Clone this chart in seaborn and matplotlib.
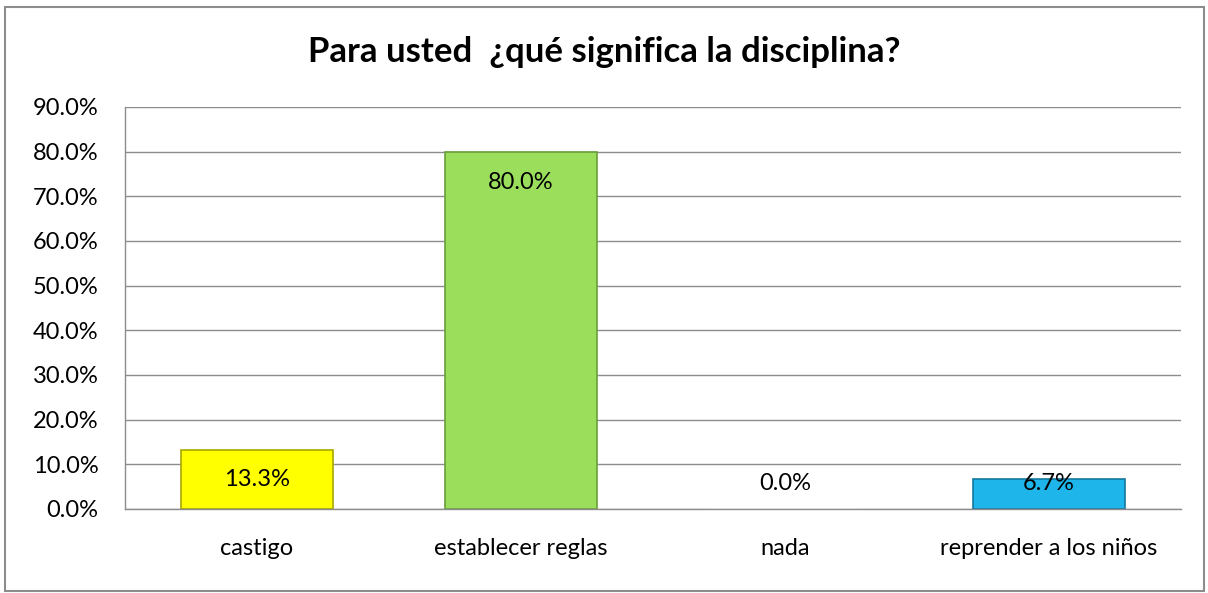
import matplotlib
matplotlib.use("Agg")
import matplotlib.pyplot as plt
import seaborn as sns
import pandas as pd
from matplotlib.patches import Rectangle

# Data
categories = ["castigo", "establecer reglas", "nada", "reprender a los niños"]
values = [13.3, 80.0, 0.0, 6.7]
colors = ["#FFFF00", "#9BDE5C", "#F0F0F0", "#1EB6EA"]
edges = ["#A8A800", "#6A9E3A", "#F0F0F0", "#1478A0"]
yticks = [0, 10, 20, 30, 40, 50, 60, 70, 80, 90]

df = pd.DataFrame({"cat": categories, "val": values})

sns.set_theme(style="white")
plt.rcParams["font.family"] = ["Lato", "DejaVu Sans"]

fig = plt.figure(figsize=(12.08, 5.93), dpi=100)
ax = fig.add_axes([0.1035, 0.1417, 0.8741, 0.6779])

sns.barplot(data=df, x="cat", y="val", hue="cat", palette=colors,
            legend=False, width=0.576, ax=ax, saturation=1)

for patch, ec in zip(ax.patches, edges):
    patch.set_edgecolor(ec)
    patch.set_linewidth(1.2)

# value labels inside the end of each bar
for i, v in enumerate(values):
    ypos = max(v - 6.8, 5.8)
    ax.text(i, ypos, f"{v:.1f}%", ha="center", va="center", fontsize=17, color="black")

ax.set_ylim(0, 90)
ax.set_xlim(-0.5, 3.5)
ax.set_yticks(yticks)
ax.set_yticklabels([f"{t:.1f}%" for t in yticks], fontsize=17, color="black")
ax.tick_params(axis="x", labelsize=17, labelcolor="black", pad=21, length=0)
ax.tick_params(axis="y", length=0, pad=19)
ax.set_xlabel("")
ax.set_ylabel("")
ax.yaxis.grid(True, color="#8C8C8C", linewidth=1)
ax.set_axisbelow(True)
for s in ["top", "right"]:
    ax.spines[s].set_visible(False)
for s in ["left", "bottom"]:
    ax.spines[s].set_color("#8C8C8C")
    ax.spines[s].set_linewidth(1)

fig.text(0.5, 0.912, "Para usted  ¿qué significa la disciplina?", ha="center", va="center",
         fontsize=25, fontweight="bold", color="black")

# outer chart border
fig.patches.append(Rectangle((0.004, 0.004), 0.993, 0.984, transform=fig.transFigure,
                             fill=False, edgecolor="#8C8C8C", linewidth=1.5))

fig.savefig("out.png", dpi=100)
